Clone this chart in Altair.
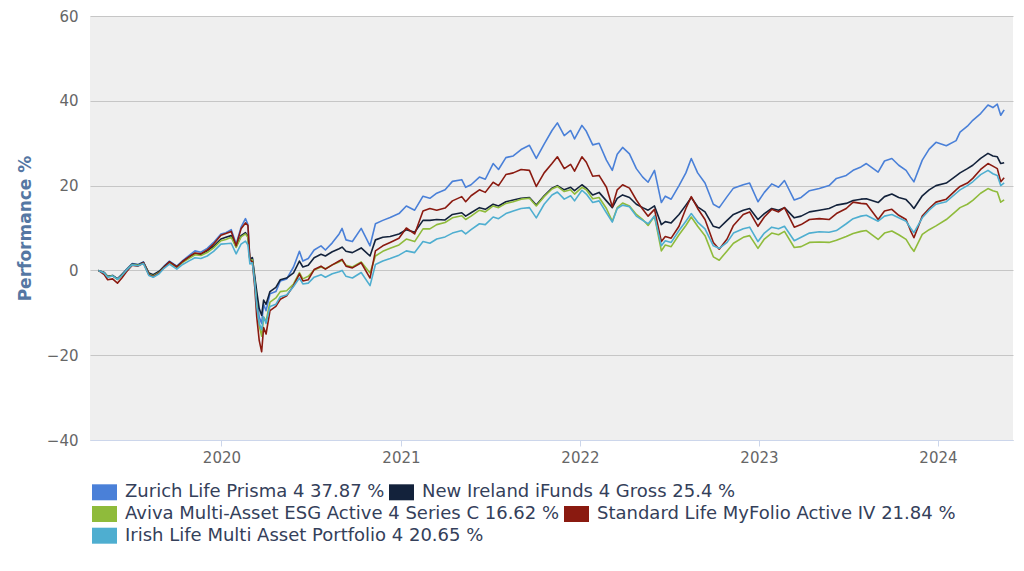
import altair as alt
import pandas as pd

dates = [
    "2019-04-25","2019-05-07","2019-05-14","2019-05-24","2019-06-03","2019-06-12","2019-06-21","2019-07-03","2019-07-15","2019-07-26",
    "2019-08-06","2019-08-15","2019-08-27","2019-09-06","2019-09-17","2019-10-02","2019-10-14","2019-10-28","2019-11-08","2019-11-20",
    "2019-12-03","2019-12-16","2019-12-31","2020-01-10","2020-01-21","2020-01-31","2020-02-10","2020-02-19","2020-02-24","2020-02-28",
    "2020-03-04","2020-03-09","2020-03-13","2020-03-18","2020-03-23","2020-03-27","2020-04-01","2020-04-09","2020-04-21","2020-04-30",
    "2020-05-13","2020-05-27","2020-06-08","2020-06-15","2020-06-26","2020-07-08","2020-07-22","2020-07-31","2020-08-14","2020-08-28",
    "2020-09-03","2020-09-11","2020-09-24","2020-10-12","2020-10-30","2020-11-10","2020-11-25","2020-12-10","2020-12-28","2021-01-12",
    "2021-01-29","2021-02-15","2021-03-01","2021-03-15","2021-04-01","2021-04-16","2021-05-05","2021-05-13","2021-05-24","2021-06-10",
    "2021-06-22","2021-07-08","2021-07-19","2021-08-03","2021-08-18","2021-09-03","2021-09-20","2021-10-04","2021-10-20","2021-11-05",
    "2021-11-16","2021-11-30","2021-12-13","2021-12-21","2022-01-05","2022-01-14","2022-01-27","2022-02-09","2022-02-24","2022-03-08",
    "2022-03-18","2022-03-29","2022-04-12","2022-04-26","2022-05-09","2022-05-20","2022-06-02","2022-06-16","2022-06-24","2022-07-06",
    "2022-07-22","2022-08-05","2022-08-16","2022-08-29","2022-09-13","2022-09-30","2022-10-12","2022-10-28","2022-11-10","2022-11-30",
    "2022-12-13","2022-12-30","2023-01-12","2023-01-27","2023-02-10","2023-02-22","2023-03-14","2023-03-28","2023-04-14","2023-05-04",
    "2023-05-24","2023-06-08","2023-06-28","2023-07-12","2023-07-28","2023-08-08","2023-09-01","2023-09-14","2023-09-29","2023-10-13",
    "2023-10-28","2023-11-06","2023-11-13","2023-11-30","2023-12-14","2023-12-28","2024-01-18","2024-02-07","2024-02-15","2024-03-01",
    "2024-03-12","2024-03-28","2024-04-12","2024-04-22","2024-05-01","2024-05-08","2024-05-15",
]

zurich = [
    0, -0.5, -1.5, -1.2, -2.0, -1.0, 0.2, 1.6, 1.4, 2.0,
    -0.8, -1.2, -0.3, 1.0, 2.2, 1.0, 2.3, 3.6, 4.6, 4.3,
    5.2, 6.6, 8.6, 8.9, 9.6, 6.2, 10.2, 12.2, 10.8, 2.5,
    3.0, -2.0, -6.0, -11.0, -12.5, -8.0, -9.5, -5.5, -5.0, -2.5,
    -2.0, 0.8, 4.5, 2.2, 2.8, 4.8, 5.8, 4.8, 6.5, 8.6,
    9.9, 7.2, 6.8, 9.9, 5.8, 11.0, 11.8, 12.5, 13.4, 15.2,
    14.2, 17.5, 17.0, 18.2, 19.0, 21.0, 21.4, 19.6, 20.2, 22.0,
    21.5, 25.2, 23.8, 26.6, 27.0, 28.5, 29.5, 26.4, 29.8, 33.0,
    34.8, 31.8, 33.0, 31.0, 34.2, 32.8, 29.6, 30.0, 26.0, 23.6,
    27.4, 29.0, 27.5, 24.0, 22.0, 20.8, 23.6, 16.0, 17.5, 16.8,
    20.0, 23.0, 26.4, 23.0, 20.6, 15.6, 14.8, 17.4, 19.4, 20.2,
    20.6, 16.2, 18.4, 20.4, 19.6, 21.2, 16.6, 17.2, 18.8, 19.3,
    20.0, 21.7, 22.4, 23.6, 24.4, 25.2, 23.2, 25.8, 26.4, 24.8,
    23.6, 22.0, 20.9, 26.0, 28.6, 30.2, 29.4, 30.6, 32.6, 34.0,
    35.4, 37.0, 39.0, 38.4, 39.2, 36.6, 37.87,
]

new_ireland = [
    0, -0.5, -1.4, -1.2, -2.0, -1.0, 0.1, 1.5, 1.3, 1.9,
    -0.6, -1.0, -0.2, 0.9, 2.0, 0.9, 2.1, 3.2, 4.0, 3.8,
    4.6, 5.7, 7.4, 7.8, 8.2, 5.6, 8.2, 8.9, 8.0, 2.5,
    3.0, -1.5, -5.0, -9.0, -10.6, -7.0, -8.0, -5.0, -4.0, -2.2,
    -1.8, -0.6, 2.2, 0.8, 1.2, 3.0, 3.8, 3.4, 4.4, 5.1,
    5.5, 4.5, 4.2, 5.3, 3.4, 7.2, 7.8, 8.0, 8.6, 9.6,
    9.0, 11.8, 11.8, 12.0, 11.9, 13.2, 13.6, 12.8, 13.6, 14.8,
    14.4, 15.6, 15.2, 16.2, 16.6, 17.0, 17.2, 15.4, 17.6, 19.4,
    20.0, 19.0, 19.6, 18.8, 20.2, 19.4, 17.8, 18.4, 16.4, 14.8,
    17.0, 17.8, 17.2, 15.6, 14.8, 14.2, 15.2, 10.8, 11.5, 11.2,
    13.2, 15.4, 17.2, 15.0, 13.8, 10.4, 10.0, 11.8, 13.2, 14.2,
    14.6, 12.0, 13.4, 14.6, 14.2, 14.8, 12.4, 12.8, 13.8, 14.2,
    14.6, 15.4, 15.8, 16.5, 16.8, 16.9, 16.0, 17.4, 18.0, 17.2,
    16.7, 15.6, 14.6, 17.6, 19.0, 20.0, 20.6, 22.3, 23.0, 24.0,
    24.8, 26.4, 27.6, 27.0, 26.8, 25.2, 25.4,
]

aviva = [
    0, -0.6, -1.5, -1.3, -2.1, -1.2, 0.0, 1.4, 1.2, 1.7,
    -0.9, -1.3, -0.5, 0.7, 1.8, 0.7, 1.9, 2.9, 3.7, 3.5,
    4.2, 5.3, 7.0, 7.3, 7.8, 5.4, 7.9, 8.6, 7.8, 2.3,
    2.5, -2.8, -8.0, -13.0, -15.5, -11.0, -12.0, -7.5, -6.5, -5.0,
    -4.8, -3.2, -0.5, -2.0, -1.4, 0.1, 0.8, 0.4, 1.3, 2.0,
    2.4, 1.2, 0.8, 2.0, -0.6, 3.4, 4.5, 5.2, 6.0, 7.4,
    6.8, 9.8, 9.8, 10.8, 11.3, 12.4, 12.9, 12.0, 12.8, 14.2,
    13.8, 15.2, 14.8, 15.8, 16.2, 16.8, 17.0, 15.2, 17.4, 19.2,
    19.8, 18.6, 19.0, 18.0, 19.6, 19.0, 16.9, 17.2, 14.6, 11.6,
    14.8, 15.9, 15.2, 13.2, 12.0, 10.6, 12.8, 4.6, 6.0, 5.6,
    8.4, 10.6, 12.6, 10.4, 8.2, 3.2, 2.4, 4.6, 6.4, 7.8,
    8.2, 5.2, 7.4, 8.8, 8.4, 9.2, 5.4, 5.6, 6.6, 6.7,
    6.6, 7.1, 8.0, 8.7, 9.2, 9.4, 7.3, 8.8, 9.3, 8.4,
    7.3, 5.6, 4.5, 8.5, 9.6, 10.5, 12.0, 14.0, 14.8, 15.6,
    16.5, 18.2, 19.3, 18.8, 18.5, 16.1, 16.62,
]

standard_life = [
    0, -1.0, -2.2, -2.0, -3.0, -1.8, -0.4, 1.2, 1.0, 1.8,
    -1.0, -1.5, -0.6, 0.7, 2.0, 0.8, 2.1, 3.3, 4.1, 3.9,
    4.8, 6.2, 8.3, 8.7, 9.2, 5.8, 9.8, 11.2, 10.6, 2.5,
    2.0, -4.0, -11.0, -16.5, -19.2, -13.5, -15.0, -9.5, -8.5, -6.8,
    -6.0, -3.6, -0.8, -2.5, -2.2, 0.2, 1.0, 0.3, 1.3, 2.2,
    2.6, 1.0, 0.6, 1.8, -1.8, 4.6, 5.8, 6.6, 7.6, 10.0,
    8.6, 14.0, 14.6, 14.2, 14.7, 16.4, 17.4, 16.2, 17.6, 19.0,
    18.4, 20.8, 20.0, 22.6, 23.0, 23.8, 23.6, 19.8, 23.0, 25.2,
    26.8, 24.0, 25.0, 23.4, 26.8, 25.5, 22.2, 22.4, 19.6, 15.0,
    19.0, 20.2, 19.4, 16.6, 14.4, 12.8, 14.4, 6.8, 8.0, 7.6,
    10.4, 14.6, 17.4, 14.6, 12.0, 6.6, 5.0, 7.4, 10.6, 13.2,
    13.8, 10.4, 12.6, 14.4, 13.8, 14.8, 10.2, 10.8, 12.0, 12.2,
    12.0, 13.4, 14.6, 16.1, 15.8, 15.7, 12.0, 14.0, 14.4, 13.0,
    12.0, 9.4, 7.7, 12.8, 14.6, 16.1, 16.8, 19.0, 19.8, 20.6,
    21.7, 23.8, 25.2, 24.6, 24.0, 20.9, 21.84,
]

irish_life = [
    0, -0.6, -1.6, -1.3, -2.1, -1.2, 0.0, 1.3, 1.1, 1.6,
    -1.2, -1.6, -0.8, 0.5, 1.5, 0.3, 1.4, 2.3, 3.0, 2.8,
    3.4, 4.5, 6.2, 6.3, 6.4, 3.9, 6.2, 6.9, 6.0, 1.5,
    1.8, -3.0, -8.5, -12.5, -14.0, -11.0, -12.5, -8.5, -8.0, -6.2,
    -5.8, -3.8, -1.8, -3.2, -3.0, -1.6, -1.0, -1.6, -0.8, -0.3,
    0.0, -1.4, -1.8, -0.5, -3.6, 1.4, 2.2, 2.8, 3.6, 4.6,
    4.2, 6.8, 6.4, 7.4, 7.9, 8.8, 9.4, 8.6, 9.6, 11.0,
    10.8, 12.6, 12.2, 13.4, 14.0, 14.6, 14.8, 12.4, 15.6, 17.8,
    18.5, 16.8, 17.6, 16.4, 18.9, 18.0, 16.0, 16.4, 13.6, 11.4,
    14.6, 15.4, 15.0, 12.8, 11.8, 11.0, 12.8, 5.8, 7.0, 6.6,
    9.4, 11.6, 13.4, 11.4, 9.8, 5.8, 5.2, 6.6, 8.8, 9.8,
    10.2, 6.8, 8.8, 10.2, 9.8, 10.4, 7.0, 7.8, 8.8, 9.1,
    9.0, 9.4, 11.0, 12.2, 12.8, 13.0, 11.6, 12.8, 13.2, 12.4,
    11.6, 10.0, 8.9, 12.4, 14.2, 15.6, 16.2, 18.2, 19.0, 20.0,
    20.9, 22.6, 23.6, 22.8, 22.4, 20.0, 20.65,
]

series_names = [
    "Zurich Life Prisma 4 37.87 %",
    "New Ireland iFunds 4 Gross 25.4 %",
    "Aviva Multi-Asset ESG Active 4 Series C 16.62 %",
    "Standard Life MyFolio Active IV 21.84 %",
    "Irish Life Multi Asset Portfolio 4 20.65 %",
]
series_values = [zurich, new_ireland, aviva, standard_life, irish_life]
series_colors = ["#4a80d8", "#13223b", "#8fbb3b", "#8a1a10", "#4eaed0"]
year_ticks = [2020, 2021, 2022, 2023, 2024]

# legend entry placement (relative to the plot's top-left corner)
legend_x = [-6, 291, -6, 466, -6]
legend_y = [455.8, 455.8, 477.5, 477.5, 499.2]

# a short segment drawn with a very thick stroke gives a filled block
block_symbol = "M-1,0 L1,0"

x_enc = alt.X(
    "date:T",
    scale=alt.Scale(domain=[alt.DateTime(year=2019, month=4, date=8),
                            alt.DateTime(year=2024, month=6, date=2)]),
    axis=alt.Axis(
        title=None,
        values=[alt.DateTime(year=y, month=1, date=1) for y in year_ticks],
        format="%Y",
        grid=False,
        domainColor="#ccd6eb",
        tickColor="#ccd6eb",
        tickSize=6,
        labelColor="#666666",
        labelFontSize=15,
        labelFont="DejaVu Sans",
        labelPadding=4,
    ),
)

y_enc = alt.Y(
    "value:Q",
    scale=alt.Scale(domain=[-40, 60], nice=False),
    axis=alt.Axis(
        title="Performance %",
        values=[-40, -20, 0, 20, 40, 60],
        grid=True,
        gridColor="#c6c6c6",
        domain=False,
        ticks=False,
        labelColor="#666666",
        labelFontSize=15,
        labelFont="DejaVu Sans",
        labelPadding=12,
        titleColor="#5577a3",
        titleFontSize=17,
        titleFont="DejaVu Sans",
        titleFontWeight="bold",
        titleX=-65,
        titleY=212,
        titleAlign="center",
        titleBaseline="middle",
        titleAngle=270,
    ),
)

layers = []
for i, (name, vals) in enumerate(zip(series_names, series_values)):
    sub = pd.DataFrame({"date": dates, "value": vals, "series": name})
    layers.append(
        alt.Chart(sub).mark_line(strokeWidth=1.6, strokeJoin="round").encode(
            x=x_enc,
            y=y_enc,
            color=alt.Color(
                "series:N",
                scale=alt.Scale(domain=[name], range=[series_colors[i]]),
                legend=alt.Legend(
                    title=None,
                    orient="none",
                    legendX=legend_x[i],
                    legendY=legend_y[i],
                    direction="horizontal",
                    symbolType=block_symbol,
                    symbolSize=625,
                    symbolStrokeWidth=16,
                    symbolOpacity=1,
                    labelFont="DejaVu Sans",
                    labelFontSize=18,
                    labelColor="#34405a",
                    labelLimit=700,
                    labelOffset=0,
                ),
            ),
        )
    )

chart = alt.layer(*layers).resolve_scale(
    color="independent"
).properties(
    width=923,
    height=424,
    autosize=alt.AutoSizeParams(type="none"),
    padding={"left": 82, "top": 8, "right": 3, "bottom": 120},
    background="white",
).configure_view(
    fill="#efefef",
    strokeWidth=0,
)

chart.save("out.html", embed_options={"renderer": "svg", "actions": False})
